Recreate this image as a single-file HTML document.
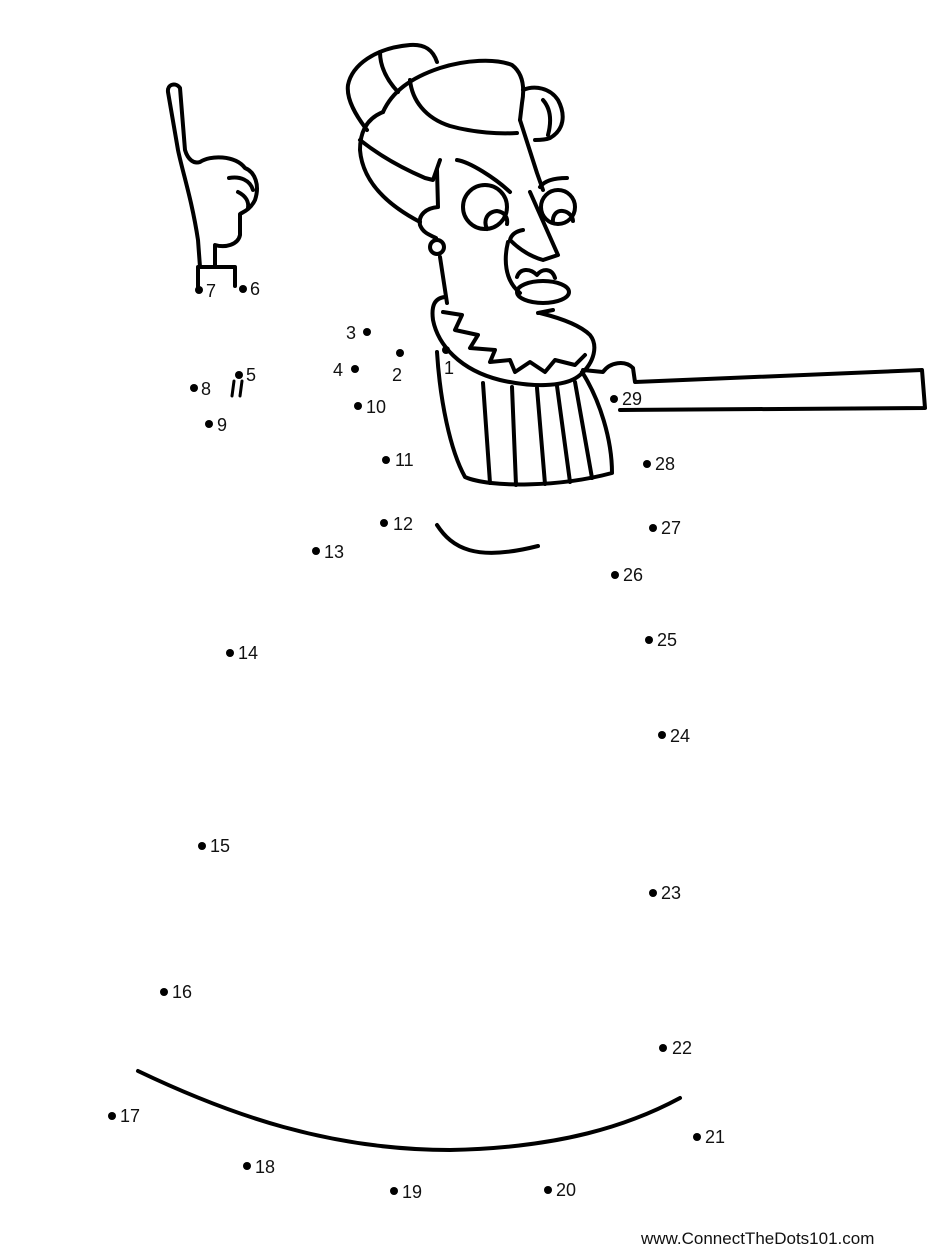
<!DOCTYPE html>
<html><head><meta charset="utf-8"><style>
html,body{margin:0;padding:0;background:#fff;}
svg{display:block;}
text{font-family:"Liberation Sans",sans-serif;font-size:18px;fill:#111;}
</style></head><body>
<svg width="927" height="1250" viewBox="0 0 927 1250" xmlns="http://www.w3.org/2000/svg">
<g fill="none" stroke="#000" stroke-width="4" stroke-linecap="round" stroke-linejoin="round">
<!-- hand -->
<path d="M200,267 L198,240 C192,200 182,170 178,150 L168,92 C167,84 176,82 180,88 L185,150 C188,160 194,164 200,162 C210,155 235,155 245,168 C255,172 260,185 255,200 C250,210 243,212 240,214 L240,235 C238,245 225,248 215,245 L215,267"/>
<path d="M229,178 C240,176 250,180 253,190"/>
<path d="M238,192 C246,196 249,202 248,208"/>
<path d="M198,267 L198,288 M198,267 L235,267 L235,286"/>
<!-- hair -->
<path d="M367,130 C357,117 346,100 348,85 C352,65 375,48 410,45 C425,44 433,50 437,62"/>
<path d="M380,52 C380,65 385,78 398,92"/>
<path d="M383,112 C392,92 410,78 440,68 C465,60 495,58 512,65 C525,75 524,92 522,103 L520,120"/>
<path d="M410,80 C412,100 425,118 450,126 C475,133 500,134 517,133"/>
<path d="M383,112 C368,118 360,130 360,150 C362,175 378,200 420,222"/>
<path d="M360,140 C375,152 395,165 425,178 L433,180 L440,160"/>
<path d="M523,90 C535,85 550,88 558,100 C566,115 564,130 550,138 C545,140 540,140 535,140"/>
<path d="M543,100 C550,108 552,120 548,135"/>
<!-- face -->
<path d="M437,170 L438,207 C426,208 418,215 420,225 C423,233 430,235 436,238"/>
<circle cx="437" cy="247" r="7"/>
<path d="M440,257 L447,303"/>
<path d="M520,120 L537,173 L543,190"/>
<circle cx="485" cy="207" r="22"/>
<path d="M487,229 C483,220 487,212 497,211 C505,212 508,218 507,224"/>
<circle cx="558" cy="207" r="17"/>
<path d="M553,223 C552,215 557,210 563,211 C570,212 573,218 573,221"/>
<path d="M457,160 C470,162 495,178 510,192"/>
<path d="M540,187 C545,180 555,178 567,178"/>
<path d="M530,192 L558,255 L543,260 Q525,255 510,240 Q512,232 523,230"/>
<path d="M508,242 C504,258 504,280 520,293"/>
<path d="M517,277 C520,268 530,268 537,275 C542,268 552,268 555,278"/>
<ellipse cx="543" cy="292" rx="26" ry="11"/>
<path d="M538,313 L553,310"/>
<!-- collar -->
<path d="M445,297 C435,298 431,305 433,320 C438,345 460,370 500,380 C530,387 565,388 580,375 C595,362 598,345 590,335 C580,325 560,318 540,313"/>
<path d="M443,312 L462,315 L455,330 L478,335 L470,348 L495,350 L490,362 L510,360 L515,372 L530,362 L545,372 L555,360 L575,365 L585,355"/>
<!-- body -->
<path d="M437,352 C440,400 450,450 465,477 C490,488 560,487 612,473 C612,440 600,400 582,372"/>
<path d="M483,383 L490,483 M512,387 L516,485 M537,388 L545,484 M557,386 L570,482 M575,382 L592,478"/>
<!-- arm -->
<path d="M583,370 L603,372 C610,362 625,360 633,368 L635,382 L922,370 L925,408 L620,410"/>
<!-- smiles -->
<path d="M437,525 C452,548 475,562 538,546"/>
<path d="M138,1071 C230,1115 330,1150 450,1150 C560,1148 630,1125 680,1098"/>
<path d="M234,381 L232,396 M242,381 L240,396" stroke-width="3"/>
</g>
<g fill="#000">
<circle cx="199" cy="290" r="4"/><circle cx="243" cy="289" r="4"/>
<circle cx="367" cy="332" r="4"/><circle cx="400" cy="353" r="4"/><circle cx="446" cy="350" r="4"/>
<circle cx="355" cy="369" r="4"/><circle cx="239" cy="375" r="4"/><circle cx="194" cy="388" r="4"/>
<circle cx="358" cy="406" r="4"/><circle cx="209" cy="424" r="4"/><circle cx="386" cy="460" r="4"/>
<circle cx="384" cy="523" r="4"/><circle cx="316" cy="551" r="4"/><circle cx="230" cy="653" r="4"/>
<circle cx="202" cy="846" r="4"/><circle cx="164" cy="992" r="4"/><circle cx="112" cy="1116" r="4"/>
<circle cx="247" cy="1166" r="4"/><circle cx="394" cy="1191" r="4"/><circle cx="548" cy="1190" r="4"/>
<circle cx="697" cy="1137" r="4"/><circle cx="663" cy="1048" r="4"/><circle cx="653" cy="893" r="4"/>
<circle cx="662" cy="735" r="4"/><circle cx="649" cy="640" r="4"/><circle cx="615" cy="575" r="4"/>
<circle cx="653" cy="528" r="4"/><circle cx="647" cy="464" r="4"/><circle cx="614" cy="399" r="4"/>
</g>
<text x="206" y="297">7</text><text x="250" y="295">6</text>
<text x="346" y="339">3</text><text x="392" y="381">2</text><text x="444" y="374">1</text>
<text x="333" y="376">4</text><text x="246" y="381">5</text><text x="201" y="395">8</text>
<text x="366" y="413">10</text><text x="217" y="431">9</text><text x="395" y="466">11</text>
<text x="393" y="530">12</text><text x="324" y="558">13</text><text x="238" y="659">14</text>
<text x="210" y="852">15</text><text x="172" y="998">16</text><text x="120" y="1122">17</text>
<text x="255" y="1173">18</text><text x="402" y="1198">19</text><text x="556" y="1196">20</text>
<text x="705" y="1143">21</text><text x="672" y="1054">22</text><text x="661" y="899">23</text>
<text x="670" y="742">24</text><text x="657" y="646">25</text><text x="623" y="581">26</text>
<text x="661" y="534">27</text><text x="655" y="470">28</text><text x="622" y="405">29</text>
<text x="641" y="1244" style="font-size:17px">www.ConnectTheDots101.com</text>
</svg>
</body></html>
